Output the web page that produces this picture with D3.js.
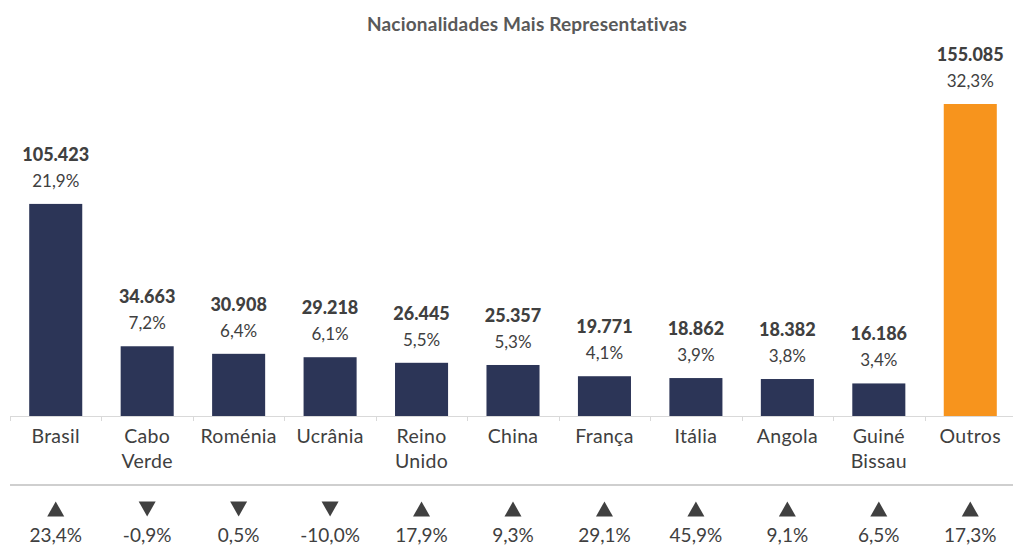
<!DOCTYPE html>
<html>
<head>
<meta charset="utf-8">
<script src="https://cdn.jsdelivr.net/npm/d3@7"></script>
<style>
    body { margin: 0; background: #fff; }
    text { font-family: Lato, "Open Sans", sans-serif; }
</style>
</head>
<body>
<div id="chart"></div>
<script>
"use strict";

// chart data
const countries = ["Brasil", "Cabo Verde", "Roménia", "Ucrânia", "Reino Unido", "China",
    "França", "Itália", "Angola", "Guiné Bissau", "Outros"];
const labelLines = [["Brasil"], ["Cabo", "Verde"], ["Roménia"], ["Ucrânia"], ["Reino", "Unido"],
    ["China"], ["França"], ["Itália"], ["Angola"], ["Guiné", "Bissau"], ["Outros"]];
const residents = [105423, 34663, 30908, 29218, 26445, 25357, 19771, 18862, 18382, 16186, 155085];
const shares = ["21,9%", "7,2%", "6,4%", "6,1%", "5,5%", "5,3%", "4,1%", "3,9%", "3,8%", "3,4%", "32,3%"];
const variationLabels = ["23,4%", "-0,9%", "0,5%", "-10,0%", "17,9%", "9,3%", "29,1%", "45,9%", "9,1%", "6,5%", "17,3%"];
// arrow direction as shown in the source (Roménia shows a down arrow)
const arrowUp = [true, false, false, false, true, true, true, true, true, true, true];

const msm = {
    width: 1013,
    height: 547,
    left: 10,
    right: 1016,
    baseline: 416,
    top: 104
}

const svg = d3.select("#chart")
    .append("svg")
    .attr("width", msm.width)
    .attr("height", msm.height);

const x = d3.scaleBand()
    .domain(countries)
    .range([msm.left, msm.right])
    .paddingInner(0.42)
    .paddingOuter(0.21);

const y = d3.scaleLinear()
    .domain([0, d3.max(residents)])
    .range([msm.baseline, msm.top]);

const gap = (x.step() - x.bandwidth()) / 2;
const mid = d => x(d) + x.bandwidth() / 2;

// title
svg.append("text")
    .attr("x", 527)
    .attr("y", 31)
    .attr("text-anchor", "middle")
    .style("font-size", "19px")
    .style("font-weight", "bold")
    .style("letter-spacing", "0.2px")
    .style("fill", "#595959")
    .text("Nacionalidades Mais Representativas");

// bars
svg.selectAll(".bar")
    .data(countries)
    .enter()
    .append("rect")
    .attr("class", "bar")
    .attr("x", d => x(d))
    .attr("y", (d, i) => y(residents[i]))
    .attr("width", x.bandwidth())
    .attr("height", (d, i) => y(0) - y(residents[i]))
    .attr("fill", d => d == "Outros" ? "#f7941d" : "#2c3557");

// value labels
svg.selectAll(".val")
    .data(countries)
    .enter()
    .append("text")
    .attr("class", "val")
    .attr("x", mid)
    .attr("y", (d, i) => y(residents[i]) - 43)
    .attr("text-anchor", "middle")
    .style("font-size", "18px")
    .style("font-weight", "900")
    .style("fill", "#404040")
    .text((d, i) => d3.format(",")(residents[i]).replace(/,/g, "."));

svg.selectAll(".share")
    .data(countries)
    .enter()
    .append("text")
    .attr("class", "share")
    .attr("x", mid)
    .attr("y", (d, i) => y(residents[i]) - 17)
    .attr("text-anchor", "middle")
    .style("font-size", "17px")
    .style("fill", "#404040")
    .text((d, i) => shares[i]);

// x axis line with ticks between categories
const axis = svg.append("g");
axis.append("line")
    .attr("x1", msm.left)
    .attr("x2", msm.right)
    .attr("y1", msm.baseline + 0.5)
    .attr("y2", msm.baseline + 0.5)
    .attr("stroke", "#d9d9d9")
    .attr("stroke-width", 1);

axis.selectAll(".tick")
    .data(countries)
    .enter()
    .append("line")
    .attr("x1", d => Math.round(x(d) - gap) + 0.5)
    .attr("x2", d => Math.round(x(d) - gap) + 0.5)
    .attr("y1", msm.baseline)
    .attr("y2", msm.baseline + 5)
    .attr("stroke", "#d9d9d9");

// category labels
const cat = svg.selectAll(".cat")
    .data(countries)
    .enter()
    .append("text")
    .attr("class", "cat")
    .attr("text-anchor", "middle")
    .style("font-size", "19.5px")
    .style("letter-spacing", "0.3px")
    .style("fill", "#404040");

cat.selectAll("tspan")
    .data((d, i) => labelLines[i].map(l => ({ line: l, c: d })))
    .enter()
    .append("tspan")
    .attr("x", d => mid(d.c))
    .attr("y", (d, j) => 443 + j * 25)
    .text(d => d.line);

// separator
svg.append("line")
    .attr("x1", msm.left)
    .attr("x2", msm.right)
    .attr("y1", 485)
    .attr("y2", 485)
    .attr("stroke", "#bfbfbf")
    .attr("stroke-width", 1.5);

// arrows
svg.selectAll(".arrow")
    .data(countries)
    .enter()
    .append("path")
    .attr("class", "arrow")
    .attr("transform", d => "translate(" + mid(d) + ",509)")
    .attr("d", (d, i) => arrowUp[i] ? "M-8.5,7.5L8.5,7.5L0,-7.5Z" : "M-8.5,-7.5L8.5,-7.5L0,7.5Z")
    .attr("fill", "#404040");

// variation labels
svg.selectAll(".var")
    .data(countries)
    .enter()
    .append("text")
    .attr("class", "var")
    .attr("x", mid)
    .attr("y", 542)
    .attr("text-anchor", "middle")
    .style("font-size", "19px")
    .style("fill", "#404040")
    .text((d, i) => variationLabels[i]);
</script>
</body>
</html>
